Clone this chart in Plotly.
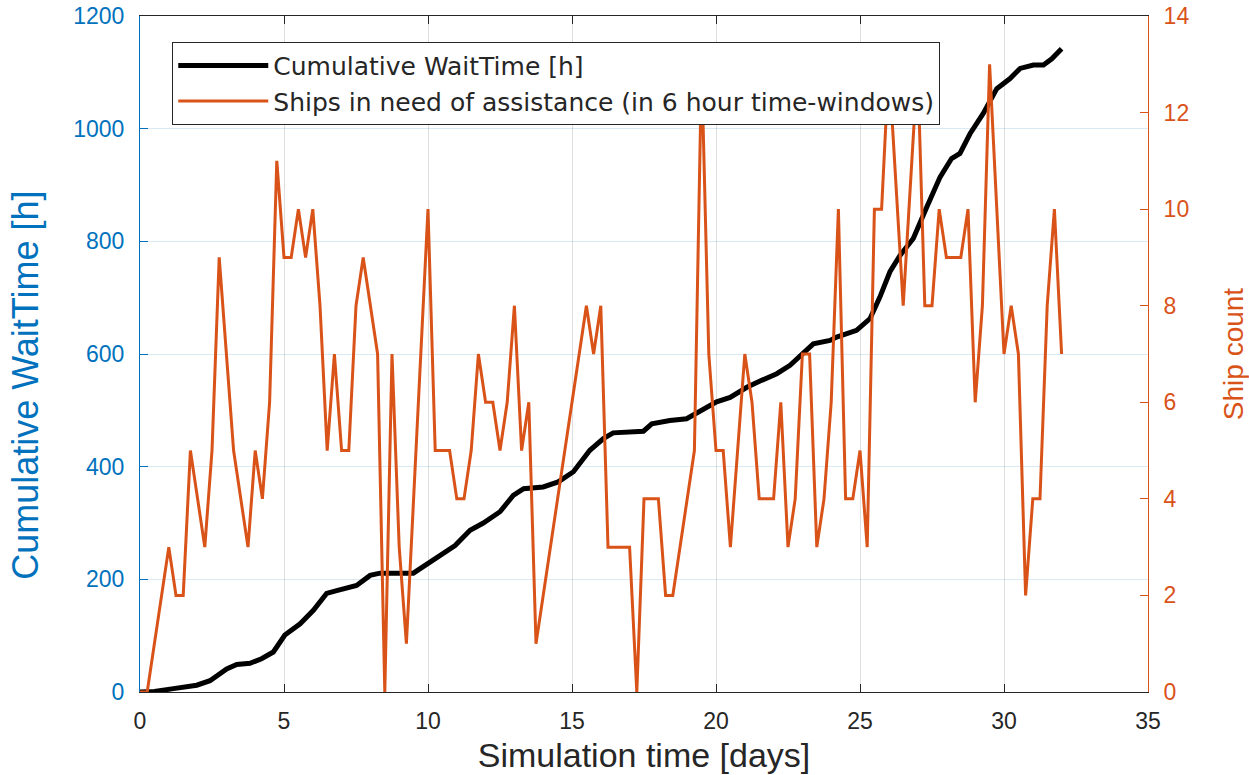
import plotly.graph_objects as go

# Cumulative waiting time of ships (hours) over the simulated period
wait_days = [0, 0.5, 1.16, 1.97, 2.43, 2.72, 3.01, 3.36, 3.82, 4.22, 4.63, 5.03, 5.56,
             6.02, 6.48, 6.83, 7.52, 7.99, 8.33, 9.49, 10.07, 10.53, 10.94, 11.46,
             11.92, 12.5, 12.96, 13.32, 14.0, 14.52, 15.05, 15.62, 16.09, 16.43, 17.48,
             17.77, 18.4, 18.98, 19.56, 20.02, 20.49, 21.07, 21.53, 22.11, 22.57, 23.03,
             23.38, 23.96, 24.19, 24.88, 25.35, 25.69, 26.04, 26.39, 26.85, 27.32, 27.78,
             28.18, 28.47, 28.82, 29.28, 29.75, 30.21, 30.56, 31.02, 31.37, 31.66, 32.0]
wait_hours = [0, 1, 6, 12, 20, 30, 41, 49, 51, 59, 71, 101, 121,
              145, 175, 180, 189, 207, 211, 211, 231, 246, 260, 287,
              300, 320, 349, 361, 364, 373, 391, 429, 450, 460, 463,
              476, 482, 485, 503, 515, 523, 541, 552, 565, 580, 601,
              618, 624, 630, 642, 663, 701, 746, 775, 805, 861, 914,
              947, 956, 991, 1027, 1071, 1089, 1107, 1113, 1113, 1124, 1142]

# Ships in need of assistance, counted in 6-hour windows
ship_days = [0, 0.25, 1.0, 1.25, 1.5, 1.75, 2.25, 2.5, 2.75, 3.0, 3.25, 3.75, 4.0, 4.25,
             4.5, 4.75, 5.0, 5.25, 5.5, 5.75, 6.0, 6.25, 6.5, 6.75, 7.0, 7.25, 7.5, 7.75,
             8.25, 8.5, 8.75, 9.0, 9.25, 10.0, 10.25, 10.5, 10.75, 11.0, 11.25, 11.5,
             11.75, 12.0, 12.25, 12.5, 12.75, 13.0, 13.25, 13.5, 13.75, 15.5, 15.75, 16.0,
             16.25, 16.5, 16.75, 17.0, 17.25, 17.5, 17.75, 18.0, 18.25, 18.5, 19.25, 19.5,
             19.75, 20.0, 20.25, 20.5, 21.0, 21.25, 21.5, 21.75, 22.0, 22.25, 22.5, 22.75,
             23.0, 23.25, 23.5, 23.75, 24.0, 24.25, 24.5, 24.75, 25.0, 25.25, 25.5, 25.75,
             26.0, 26.5, 27.0, 27.25, 27.5, 27.75, 28.0, 28.25, 28.5, 28.75, 29.0, 29.25,
             29.5, 30.0, 30.25, 30.5, 30.75, 31.0, 31.25, 31.5, 31.75, 32.0]
ship_counts = [0, 0, 3, 2, 2, 5, 3, 5, 9, 7, 5, 3, 5, 4,
               6, 11, 9, 9, 10, 9, 10, 8, 5, 7, 5, 5, 8, 9,
               7, 0, 7, 3, 1, 10, 5, 5, 5, 4, 4, 5,
               7, 6, 6, 5, 6, 8, 5, 6, 1, 8, 7, 8,
               3, 3, 3, 3, 0, 4, 4, 4, 2, 2, 5, 13,
               7, 5, 5, 3, 7, 6, 4, 4, 4, 6, 3, 4,
               7, 7, 3, 4, 6, 10, 4, 4, 5, 3, 10, 10,
               13, 8, 13, 8, 8, 10, 9, 9, 9, 10, 6, 8,
               13, 7, 8, 7, 2, 4, 4, 8, 10, 7]

x_ticks = [0, 5, 10, 15, 20, 25, 30, 35]
left_ticks = [0, 200, 400, 600, 800, 1000, 1200]
right_ticks = [0, 2, 4, 6, 8, 10, 12, 14]

BLUE = "#0072BD"
ORANGE = "#D95319"
DARK = "#262626"
FONT = "Liberation Sans, Arial, sans-serif"
LEGEND_FONT = "DejaVu Sans, Liberation Sans, sans-serif"

fig = go.Figure()
fig.add_trace(go.Scatter(
    x=wait_days, y=wait_hours, mode="lines", name="Cumulative WaitTime [h]",
    line=dict(color="black", width=5), yaxis="y",
))
fig.add_trace(go.Scatter(
    x=ship_days, y=ship_counts, mode="lines",
    name="Ships in need of assistance (in 6 hour time-windows)",
    line=dict(color=ORANGE, width=3), yaxis="y2",
))

fig.update_layout(
    width=1249, height=775,
    margin=dict(l=140, r=101, t=16, b=83),
    paper_bgcolor="white", plot_bgcolor="white",
    font=dict(family=FONT, color=DARK, size=23),
    xaxis=dict(
        range=[0, 35], tickvals=x_ticks, ticks="inside", ticklen=8, tickcolor=DARK,
        showline=True, linecolor=DARK, linewidth=1, mirror="ticks",
        showgrid=True, gridcolor="rgba(38,38,38,0.15)", gridwidth=1, zeroline=False,
        tickfont=dict(size=23, color=DARK), ticklabelstandoff=8, automargin=False,
        title=dict(text="Simulation time [days]", font=dict(size=34, color=DARK), standoff=10),
    ),
    yaxis=dict(
        range=[0, 1200], tickvals=left_ticks, ticks="inside", ticklen=8, tickcolor=BLUE,
        showline=True, linecolor=BLUE, linewidth=1,
        showgrid=True, gridcolor="rgba(0,114,189,0.15)", gridwidth=1, zeroline=False,
        tickfont=dict(size=23, color=BLUE), ticklabelstandoff=10, automargin=False,
    ),
    yaxis2=dict(
        range=[0, 14], tickvals=right_ticks, ticks="inside", ticklen=8, tickcolor=ORANGE,
        overlaying="y", side="right", anchor="x",
        showline=True, linecolor=ORANGE, linewidth=1, showgrid=False, zeroline=False,
        tickfont=dict(size=23, color=ORANGE), ticklabelstandoff=10, automargin=False,
        title=dict(text="Ship count", font=dict(size=28, color=ORANGE), standoff=36),
    ),
    annotations=[dict(
        text="Cumulative WaitTime [h]", xref="paper", yref="paper",
        x=-0.113, y=0.453, xanchor="center", yanchor="middle", textangle=-90,
        showarrow=False, font=dict(size=36, color=BLUE),
    )],
    showlegend=True,
    legend=dict(
        x=0.032, y=0.962, xanchor="left", yanchor="top",
        bgcolor="white", bordercolor=DARK, borderwidth=1,
        font=dict(family=LEGEND_FONT, size=25, color=DARK), itemwidth=90,
        tracegroupgap=0,
    ),
)

fig.write_html("out.html")
